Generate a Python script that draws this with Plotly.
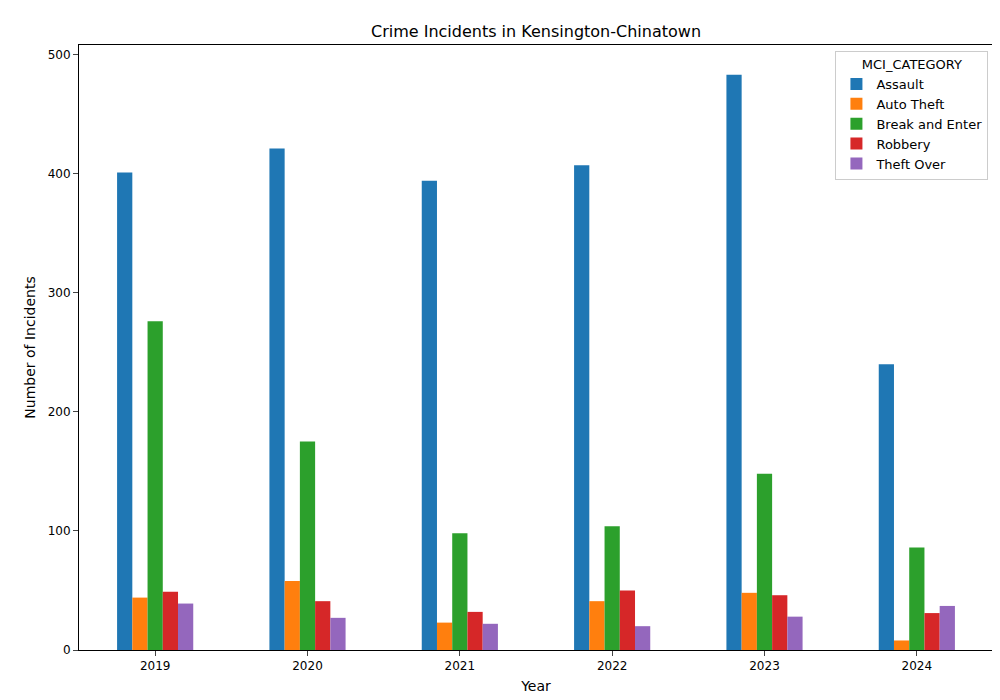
import plotly.graph_objects as go

years = ["2019", "2020", "2021", "2022", "2023", "2024"]
categories = ["Assault", "Auto Theft", "Break and Enter", "Robbery", "Theft Over"]
assault = [401, 421, 394, 407, 483, 240]
auto_theft = [44, 58, 23, 41, 48, 8]
break_enter = [276, 175, 98, 104, 148, 86]
robbery = [49, 41, 32, 50, 46, 31]
theft_over = [39, 27, 22, 20, 28, 37]
series = [assault, auto_theft, break_enter, robbery, theft_over]
colors = ["#1f77b4", "#ff7f0e", "#2ca02c", "#d62728", "#9467bd"]

fig = go.Figure()
for name, vals, c in zip(categories, series, colors):
    fig.add_trace(go.Bar(x=list(range(len(years))), y=vals, name=name, marker_color=c, marker_line_width=0))

fig.update_layout(
    width=1000, height=700, barmode="group", bargap=0.5, bargroupgap=0,
    plot_bgcolor="white", paper_bgcolor="white",
    font=dict(family="DejaVu Sans", size=12, color="black"),
    title=dict(text="Crime Incidents in Kensington-Chinatown", x=0.528, xanchor="center",
               yref="container", y=1 - 23 / 700, yanchor="middle", font=dict(size=16)),
    margin=dict(l=71, r=15, t=37, b=58, autoexpand=False),
    legend=dict(title=dict(text="MCI_CATEGORY", side="top center", font=dict(size=13)),
                x=0.995, y=0.99, xanchor="right", yanchor="top",
                bordercolor="#cccccc", borderwidth=1, bgcolor="rgba(255,255,255,0.8)", font=dict(size=13)),
    showlegend=True,
)
fig.update_xaxes(tickvals=list(range(len(years))), ticktext=years, range=[-0.5, 5.5], automargin=False,
                 showline=True, linecolor="black", mirror=True, ticks="outside", showgrid=False,
                 title=dict(text="Year", standoff=8), tickfont=dict(size=12))
fig.update_yaxes(range=[0, 508], tickvals=[0, 100, 200, 300, 400, 500], automargin=False,
                 showline=True, linecolor="black", mirror=True, ticks="outside", showgrid=False, zeroline=False,
                 title=dict(text="Number of Incidents", standoff=8), tickfont=dict(size=12))
fig.write_html("out.html")
